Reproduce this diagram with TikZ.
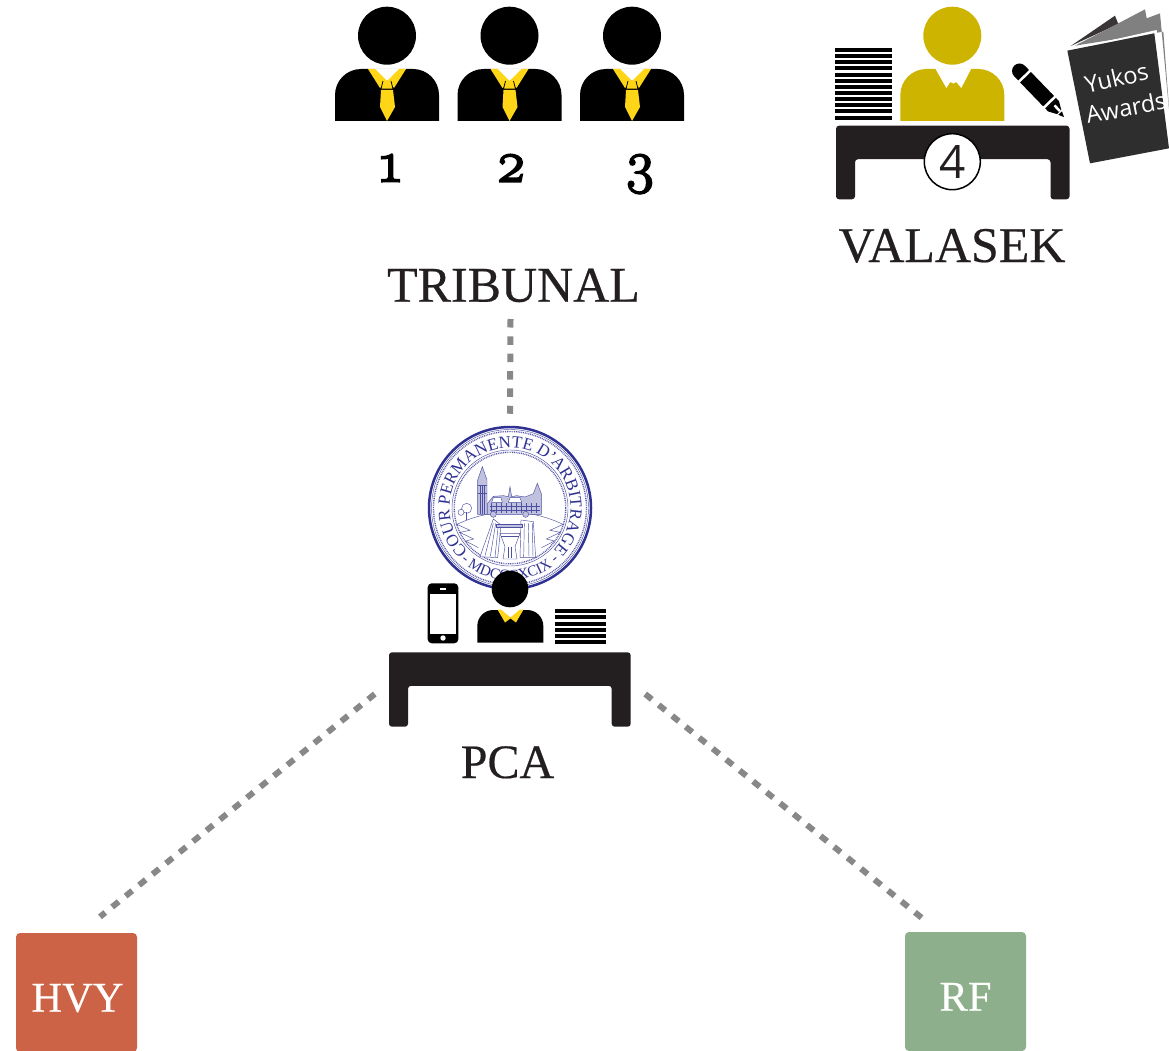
\documentclass[tikz,border=0pt]{standalone}
\usepackage{fontspec}
\setmainfont{Liberation Serif}
\newfontfamily\labelfont[FakeBold=0.4]{Liberation Serif}
\newfontfamily\numfont[Numbers=OldStyle,FakeBold=3.5]{Latin Modern Roman}
\newfontfamily\opensans{Open Sans}
\usetikzlibrary{decorations.text,calc,shapes.geometric}
\definecolor{deskblack}{HTML}{231F20}
\definecolor{tiegold}{HTML}{FFD617}
\definecolor{mustard}{HTML}{CDB400}
\definecolor{connector}{HTML}{888888}
\definecolor{sealblue}{HTML}{2E3192}
\definecolor{hvyred}{HTML}{CD6346}
\definecolor{rfgreen}{HTML}{8DAF8B}
\definecolor{labelblack}{HTML}{231F20}
\tikzset{
  conn/.style={draw=connector,line width=6pt,dash pattern=on 8.5pt off 8.85pt},
  biglabel/.style={inner sep=0pt,anchor=base,text=labelblack,font=\labelfont\fontsize{50}{50}\selectfont},
  numlabel/.style={inner sep=0pt,anchor=base,text=black,font=\numfont\fontsize{58}{58}\selectfont},
  partybox/.style={inner sep=0pt,minimum width=121pt,minimum height=119pt,rounded corners=4pt,text=white,
     text height=50pt,text depth=11.6pt,font=\labelfont\fontsize{42.5}{43}\selectfont},
  sealline/.style={draw=sealblue!85,line width=.45pt},
  sealfill/.style={sealline,fill=sealblue!30},
  booktext/.style={inner sep=0pt,text=white,font=\opensans\fontsize{23.5}{24}\selectfont}
}
\newcommand{\judgefig}[1]{%
  \begin{scope}[shift={(#1,0)}]
    \fill[black] (0,35.7) circle[radius=29pt];
    \fill[black] (-52,121) [rounded corners=26pt] -- (-52,69) -- (52,69) [sharp corners] -- (52,121) -- cycle;
    \fill[white] (-19,68.5) -- (19,68.5) -- (0,81) -- cycle;
    \fill[tiegold] (-19,69) -- (-12,69) -- (0,81) -- (-7,88) -- cycle;
    \fill[tiegold] (19,69) -- (12,69) -- (0,81) -- (7,88) -- cycle;
    \fill[tiegold] (-4,81) -- (4,81) -- (6,89) -- (-6,89) -- cycle;
    \draw[black,line width=.8pt] (-4,81) -- (-6,89) -- (6,89) -- (4,81);
    \fill[tiegold] (-6,90) -- (6,90) -- (8,107) -- (0,121) -- (-7,107) -- cycle;
  \end{scope}}
\newcommand{\deskshape}[4]{% left, right, top, bottom
  \fill[deskblack,rounded corners=3pt] (#1,#3) -- (#2,#3) -- (#2,#4) -- ({#2-19},#4) -- ({#2-19},{#3+33.5}) -- ({#1+19},{#3+33.5}) -- ({#1+19},#4) -- (#1,#4) -- cycle;}
\begin{document}
\begin{tikzpicture}[x=1pt,y=-1pt]
\useasboundingbox (0,0) rectangle (1169,1051);
\clip (0,0) rectangle (1169,1051);
\fill[white] (0,0) rectangle (1169,1051);

% tribunal
\judgefig{387}\judgefig{509.5}\judgefig{632}
\node[numlabel] (n1) at (390.5,181.5) {1};
\node[numlabel] (n2) at (511,181.5) {2};
\node[numlabel] (n3) at (640,181.5) {3};
\node[biglabel] (tribunal) at (513.5,301.7) {TRIBUNAL};

% Valasek
\foreach \i in {0,...,11} \fill[black] (835,{48+\i*6.15}) rectangle (892,{52+\i*6.15});
\fill[mustard] (952.3,35.7) circle[radius=29pt];
\fill[mustard] (900.3,121) [rounded corners=26pt] -- (900.3,69) -- (1004.3,69) [sharp corners] -- (1004.3,121) -- cycle;
\fill[white] (935.3,68.5) -- (946.3,88) -- (950.3,82) -- (953.3,83.5) -- (956.3,82) -- (961.3,88) -- (971.3,68.5) -- cycle;
\begin{scope}[shift={(1019.5,71)},rotate=-46]
  \draw[black,line width=15pt,line cap=round] (0,0) -- (38,0);
  \fill[black] (38,-7.5) rectangle (46,7.5);
  \fill[white] (6,-8.5) rectangle (8.5,8.5);
  \fill[white] (42,-8.5) rectangle (44.5,8.5);
  \fill[black] (46,-7.5) -- (49,-7.5) -- (57,-3) -- (57,3) -- (49,7.5) -- (46,7.5) -- cycle;
  \fill[white] (49,-2.5) -- (57,-2.5) -- (57,0) -- (49,0) -- cycle;
  \fill[black] (58.5,-2.5) -- (64,0) -- (58.5,2.5) -- cycle;
\end{scope}
\deskshape{836}{1069.5}{125.7}{199.3}
\node[circle,draw=black,fill=white,line width=1.5pt,minimum size=56pt,inner sep=0pt,text=deskblack,font=\opensans\fontsize{46}{46}\selectfont] (four) at (952.3,161.7) {4};
\node[biglabel] (valasek) at (952,262) {VALASEK};

% book
\begin{scope}[shift={(820,0)},x=.33333pt,y=-.33333pt]
  \fill[deskblack!90] (752,138) -- (885,47) -- (895,72) -- cycle;
  \fill[black!50] (765,137) -- (895,70) -- (975,28) -- (980,55) -- (1020,40) -- (1049,350) -- (1030,95) -- cycle;
  \fill[white] (742,150) -- (1010,90) -- (1052,445) -- (1040,445) -- (1003,100) -- cycle;
  \fill[black!82] (742,152) -- (1003,100) -- (1047,445) -- (810,490) -- cycle;
\end{scope}
\node[booktext,rotate=13] (yukos) at (1116.5,78) {Yukos};
\node[booktext,rotate=11] (awards) at (1126,107.5) {Awards};

% seal
\node[circle,draw=sealblue,line width=2.5pt,fill=white,minimum size=162pt,inner sep=0pt] (seal) at (510,508) {};
\draw[sealline] (seal.center) circle[radius=78.5pt];
\draw[sealblue!80,line width=1.4pt,dash pattern=on .9pt off .9pt] (seal.center) circle[radius=76.5pt];
\draw[sealline] (seal.center) circle[radius=58pt];
\draw[sealblue!80,line width=1.4pt,dash pattern=on .9pt off .9pt] (seal.center) circle[radius=55.8pt];
\path[decorate,decoration={text along path,text align=center,
   text={|\fontsize{17}{18}\selectfont\color{sealblue}|COUR PERMANENTE D'ARBITRAGE}}]
   ([shift={(236:60.5pt)}]seal.center) arc[start angle=236,end angle=-54,radius=60.5pt];
\path[decorate,decoration={text along path,text align=center,
   text={|\fontsize{15}{16}\selectfont\color{sealblue}|- MDCCCXCIX -}}]
   ([shift={(215:72pt)}]seal.center) arc[start angle=215,end angle=325,radius=72pt];
\begin{scope}[shift={(425,425)},x=.33333pt,y=-.33333pt]
  % ground and hills
  \draw[sealline] (92,300) .. controls (150,272) and (200,262) .. (255,262) .. controls (310,262) and (360,272) .. (418,300);
  % tree
  \draw[sealline,fill=white] (125,250) circle[radius=15];
  \draw[sealline,fill=white] (108,262) circle[radius=9];
  \draw[sealline] (125,262) -- (125,285);
  % zigzags
  \draw[sealline] (96,298) -- (135,316) -- (104,322) -- (146,342) -- (122,348) -- (160,368);
  \draw[sealline] (414,298) -- (375,316) -- (406,322) -- (364,342) -- (388,348) -- (350,368);
  % towers and building
  \draw[sealfill] (158,268) -- (158,165) -- (172,125) -- (186,165) -- (186,268) -- cycle;
  \draw[sealline] (158,180) -- (186,180) (158,205) -- (186,205) (172,180) -- (172,268) (165,180) -- (165,268) (179,180) -- (179,268);
  \draw[sealfill] (188,268) -- (188,235) -- (205,214) -- (235,212) -- (250,215) -- (255,185) -- (260,215) -- (275,212) -- (300,216) -- (325,206) -- (337,175) -- (349,206) -- (349,268) -- cycle;
  \draw[sealline,fill=white] (205,218) -- (228,218) -- (232,232) -- (200,232) -- cycle;
  \draw[sealline,fill=white] (255,218) -- (285,218) -- (290,232) -- (250,232) -- cycle;
  \draw[sealline] (195,245) -- (345,245) (195,255) -- (345,255);
  \foreach \wx in {200,215,...,340} \draw[sealline] (\wx,235) -- (\wx,265);
  % figures
  \draw[sealfill,fill=white] (205,282) -- (165,395) -- (218,398) -- (228,300) -- cycle;
  \draw[sealline] (205,295) -- (180,392) (212,295) -- (196,394) (220,300) -- (210,396);
  \draw[sealfill,fill=white] (288,285) -- (325,290) -- (332,398) -- (285,398) -- cycle;
  \draw[sealline] (298,295) -- (296,396) (310,295) -- (312,396) (322,295) -- (324,396);
  \draw[sealfill] (205,268) circle[radius=9];
  \draw[sealfill] (302,268) circle[radius=9];
  \draw[sealfill] (215,298) -- (292,298) -- (292,306) -- (215,306) -- cycle;
  \draw[sealfill,fill=white] (225,325) -- (285,325) -- (270,365) -- (276,402) -- (234,402) -- (240,365) -- cycle;
  \draw[sealline] (228,335) -- (282,335) (250,365) -- (250,400) (260,365) -- (260,400);
\end{scope}

% PCA
\fill[black,rounded corners=4pt] (427.7,583.3) rectangle (458.3,643.3);
\fill[white] (430,593.5) rectangle (456,633.5);
\fill[white] (443,638) circle[radius=2.7pt];
\fill[white] (440,588) rectangle (446,589.5);
\fill[black] (510,589) circle[radius=18.3pt];
\fill[black] (477.3,642.7) [rounded corners=16pt] -- (477.3,610) -- (543.3,610) [sharp corners] -- (543.3,642.7) -- cycle;
\fill[white] (498,609) -- (523,609) -- (510.5,617.5) -- cycle;
\fill[tiegold] (497.5,609.5) -- (501,609.5) -- (511,618) -- (505,622.5) -- cycle;
\fill[tiegold] (523.5,609.5) -- (520,609.5) -- (510,618) -- (516,622.5) -- cycle;
\foreach \i in {0,...,5} \fill[black] (555.3,{609.3+\i*6.15}) rectangle (606,{613.3+\i*6.15});
\deskshape{389}{630.7}{652.3}{726.7}
\node[inner sep=0pt,minimum width=241.7pt,minimum height=74.4pt] (pcadesk) at (509.85,689.5) {};
\node[biglabel,font=\labelfont\fontsize{48}{48}\selectfont] (pca) at (507.5,778) {PCA};

% parties
\node[partybox,fill=hvyred] (hvy) at (76.5,992.5) {\hspace*{2pt}HVY};
\node[partybox,fill=rfgreen] (rf) at (965.5,991.5) {RF};

% connectors
\draw[conn] ([shift={(-3,17.3)}]tribunal.base) -- ([yshift=12pt]seal.north);
\draw[conn] ([shift={(-14,4.5)}]pcadesk.west) -- ([shift={(23.5,-16)}]hvy.north);
\draw[conn] ([shift={(14.3,4.5)}]pcadesk.east) -- ([shift={(-43.8,-14)}]rf.north);
\end{tikzpicture}
\end{document}
